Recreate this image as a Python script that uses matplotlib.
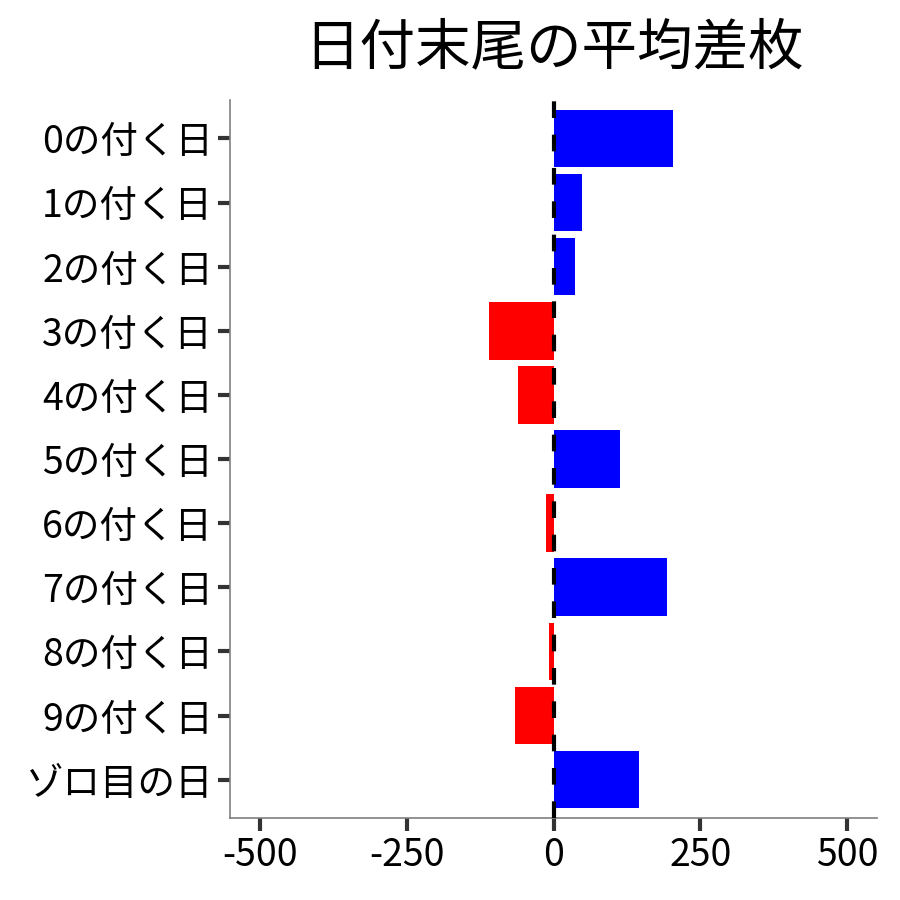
import matplotlib
matplotlib.use('Agg')
from matplotlib import pyplot as plt

plt.rcParams['font.family'] = ['Noto Sans CJK JP', 'DejaVu Sans']

# 日付末尾ごとの平均差枚
labels = ['0の付く日', '1の付く日', '2の付く日', '3の付く日', '4の付く日',
          '5の付く日', '6の付く日', '7の付く日', '8の付く日', '9の付く日',
          'ゾロ目の日']
values = [204, 48, 37, -110, -60, 114, -12, 194, -8, -66, 145]
xticks = [-500, -250, 0, 250, 500]

colors = ['blue' if v >= 0 else 'red' for v in values]
pos = list(range(len(labels)))

fig = plt.figure(figsize=(9, 9), dpi=100)
ax = fig.add_axes([0.256, 0.091, 0.718, 0.798])

ax.barh(pos, values, height=0.9, color=colors, zorder=2)
ax.axvline(0, color='black', linestyle=(0, (4, 4)), linewidth=3, zorder=3)

ax.set_xlim(-550, 550)
ax.set_ylim(len(labels) - 0.4, -0.6)
ax.set_xticks(xticks)
ax.set_xticklabels([str(t) for t in xticks])
ax.set_yticks(pos)
ax.set_yticklabels(labels)

for side in ['top', 'right']:
    ax.spines[side].set_visible(False)
for side in ['left', 'bottom']:
    ax.spines[side].set_color('#7f7f7f')
    ax.spines[side].set_linewidth(1.2)
ax.tick_params(axis='both', colors='#333333', width=3, length=9,
               labelsize=27, labelcolor='black')
ax.tick_params(axis='x', pad=4)

ax.set_title('日付末尾の平均差枚', fontsize=40, pad=26)

fig.savefig('out.png', dpi=100)
